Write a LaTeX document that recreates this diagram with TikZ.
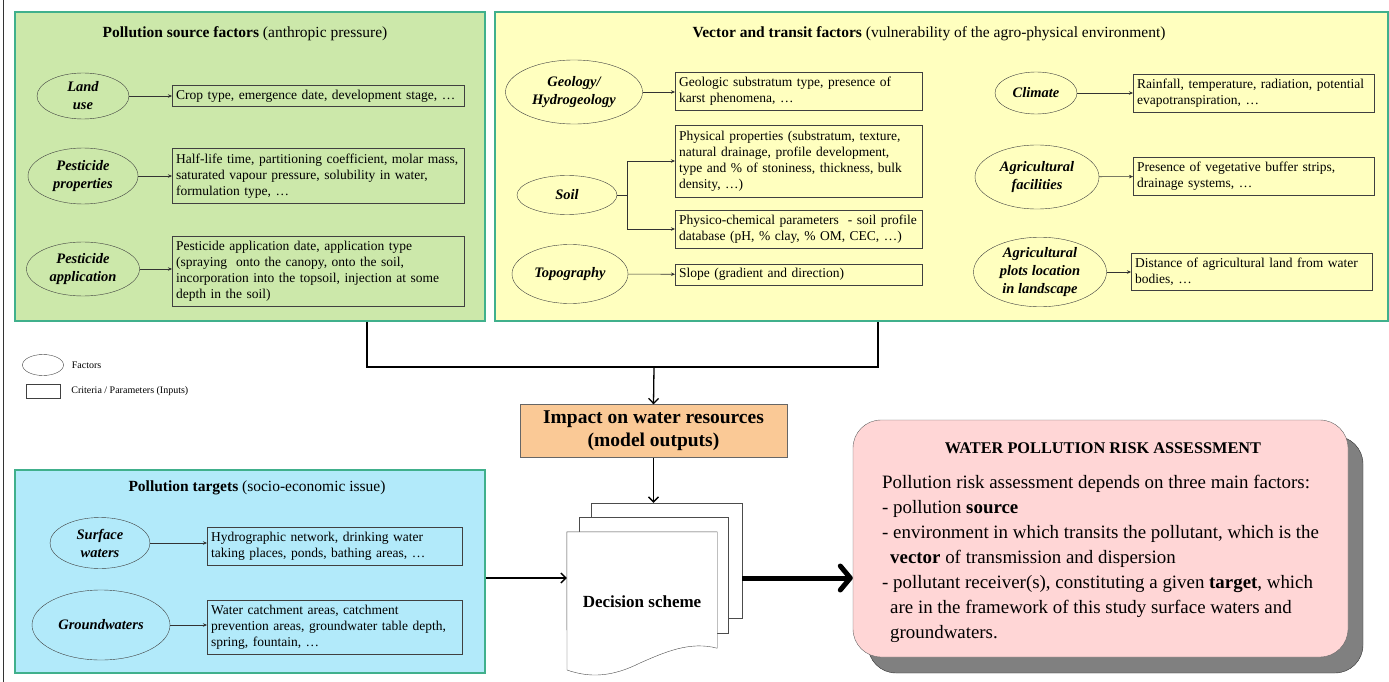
\documentclass[tikz,border=0pt]{standalone}
\usepackage{fontspec}
\setmainfont{Liberation Serif}
\usepackage{xcolor}
\usetikzlibrary{shapes.geometric, arrows.meta, positioning, shadows}

\definecolor{srcgreen}{RGB}{204,232,170}
\definecolor{vecyellow}{RGB}{255,255,191}
\definecolor{tgtblue}{RGB}{178,234,250}
\definecolor{impactorange}{RGB}{250,201,150}
\definecolor{riskpink}{RGB}{255,214,214}
\definecolor{panelborder}{RGB}{64,176,140}

\begin{document}
\begin{tikzpicture}[
    x=1pt, y=-1pt,
    panel/.style={rectangle, draw=panelborder, line width=1.3pt},
    paneltitle/.style={font=\fontsize{15.5}{18}\selectfont},
    factor/.style={ellipse, draw=black!75, inner sep=0pt, align=center, font=\fontsize{14.5}{18}\selectfont\bfseries\itshape},
    crit/.style={rectangle, draw=black!75, anchor=west, align=left, inner xsep=4pt, inner ysep=2pt, font=\fontsize{13.5}{16}\selectfont},
    legendtext/.style={inner sep=0pt, font=\fontsize{10}{12}\selectfont},
    page/.style={rectangle, draw=black!70, fill=white},
    arrow/.style={-{Stealth[length=4pt,width=3.5pt]}, draw=black!80, line width=0.6pt},
    link/.style={draw=black, line width=1.2pt},
    midarrow/.style={-{Straight Barb[length=5pt,width=10pt]}, line width=1.3pt},
    bigarrow/.style={-{Straight Barb[length=10pt,width=24pt,round]}, line width=5pt}
]
    \useasboundingbox (0,0) rectangle (1389,682);
    \draw[black!80, line width=0.8pt] (3,0) -- (3,682);

    % pollution source
    \node[panel, fill=srcgreen, minimum width=470pt, minimum height=309pt] (srcpanel) at (250,166.5) {};
    \node[paneltitle] (srctitle) at (245,34) {\textbf{Pollution source factors} (anthropic pressure)};
    \node[factor, minimum width=92pt, minimum height=46pt] (landuse) at (83,96) {Land\\use};
    \node[factor, minimum width=110pt, minimum height=56pt] (pestprop) at (83,176) {Pesticide\\properties};
    \node[factor, minimum width=113pt, minimum height=54pt] (pestapp) at (83,269) {Pesticide\\application};
    \node[crit, text width=284pt, minimum height=21pt] (cropbox) at (172,96) {Crop type, emergence date, development stage, …};
    \node[crit, text width=284pt, minimum height=55pt] (halfbox) at (172,176) {Half-life time, partitioning coefficient, molar mass,\\saturated vapour pressure, solubility in water,\\formulation type, …};
    \node[crit, text width=284pt, minimum height=70pt] (appbox) at (172,271) {Pesticide application date, application type\\(spraying~ onto the canopy, onto the soil,\\incorporation into the topsoil, injection at some\\depth in the soil)};

    % vector and transit
    \node[panel, fill=vecyellow, minimum width=893pt, minimum height=309pt] (vecpanel) at (941.5,166.5) {};
    \node[paneltitle] (vectitle) at (929,34) {\textbf{Vector and transit factors} (vulnerability of the agro-physical environment)};
    \node[factor, minimum width=137pt, minimum height=64pt] (geology) at (574,92) {Geology/\\Hydrogeology};
    \node[factor, minimum width=100pt, minimum height=39pt] (soil) at (567,195) {Soil};
    \node[factor, minimum width=116pt, minimum height=59pt] (topo) at (570,274) {Topography};
    \node[crit, text width=239pt, minimum height=38pt] (geobox) at (675,91) {Geologic substratum type, presence of\\karst phenomena, …};
    \node[crit, text width=239pt, minimum height=72pt] (physbox) at (675,161) {Physical properties (substratum, texture,\\natural drainage, profile development,\\type and \% of stoniness, thickness, bulk\\density, …)};
    \node[crit, text width=239pt, minimum height=38pt] (chembox) at (675,229) {Physico-chemical parameters~ - soil profile\\database (pH, \% clay, \% OM, CEC, …)};
    \node[crit, text width=239pt, minimum height=21pt] (slopebox) at (675,274.5) {Slope (gradient and direction)};
    \node[factor, minimum width=82pt, minimum height=42pt] (climate) at (1036,93) {Climate};
    \node[factor, minimum width=124pt, minimum height=64pt] (facil) at (1037,177) {Agricultural\\facilities};
    \node[factor, minimum width=133pt, minimum height=68pt] (plots) at (1040,272) {Agricultural\\plots location\\in landscape};
    \node[crit, text width=233pt, minimum height=38pt] (rainbox) at (1133,93) {Rainfall, temperature, radiation, potential\\evapotranspiration, …};
    \node[crit, text width=233pt, minimum height=38pt] (bufferbox) at (1133,176) {Presence of vegetative buffer strips,\\drainage systems, …};
    \node[crit, text width=233pt, minimum height=37pt] (distbox) at (1131,272) {Distance of agricultural land from water\\bodies, …};

    % legend
    \node[ellipse, draw=black!75, minimum width=41pt, minimum height=21pt, inner sep=0pt] (legfactor) at (43,365) {};
    \node[legendtext, right=8pt of legfactor] (legfactortext) {Factors};
    \node[rectangle, draw=black!75, minimum width=34pt, minimum height=14pt, inner sep=0pt] (legcrit) at (43,391) {};
    \node[legendtext, right=11pt of legcrit] (legcrittext) {Criteria / Parameters (Inputs)};

    % pollution targets
    \node[panel, fill=tgtblue, minimum width=470pt, minimum height=203pt] (tgtpanel) at (250,571.5) {};
    \node[paneltitle] (tgttitle) at (257,488) {\textbf{Pollution targets} (socio-economic issue)};
    \node[factor, minimum width=100pt, minimum height=51pt] (surface) at (100,543) {Surface\\waters};
    \node[factor, minimum width=138pt, minimum height=70pt] (ground) at (101,625) {Groundwaters};
    \node[crit, text width=247pt, minimum height=38pt] (hydrobox) at (207,546) {Hydrographic network, drinking water\\taking places, ponds, bathing areas, …};
    \node[crit, text width=247pt, minimum height=54pt] (catchbox) at (207,627) {Water catchment areas, catchment\\prevention areas, groundwater table depth,\\spring, fountain, …};

    % outputs and decision
    \node[rectangle, draw=black!60, fill=impactorange, minimum width=267pt, minimum height=53pt, align=center, font=\fontsize{19.5}{23}\selectfont\bfseries] (impact) at (653.5,431) {Impact on water resources\\(model outputs)};
    \coordinate (join) at (654,367);
    \node[page, minimum width=151pt, minimum height=115pt] (back) at (666.5,560.5) {};
    \node[page, minimum width=149pt, minimum height=116pt] (mid) at (653.5,575) {};
    \node[minimum width=150pt, minimum height=116pt, inner sep=0pt] (front) at (642,590) {};
    \filldraw[fill=white, draw=black!70] (front.north west) -- (front.north east) -- (front.south east)
        .. controls (690,641) and (665,652) .. (640,663) .. controls (612,677) and (590,678) .. (567,670) -- cycle;
    \node[font=\fontsize{17}{20}\selectfont\bfseries] (scheme) at (642,602) {Decision scheme};

    % risk assessment
    \node[rectangle, rounded corners=28pt, draw=black!60, fill=riskpink, minimum width=495pt, minimum height=237pt,
        drop shadow={shadow xshift=15pt, shadow yshift=-16pt, fill=black!50, draw=black!80, opacity=1}] (risk) at (1100.5,538.5) {};
    \node[font=\fontsize{16.3}{19}\selectfont\bfseries] (risktitle) at (1103,448) {WATER POLLUTION RISK ASSESSMENT};
    \node[anchor=north west, inner sep=0pt, align=left, font=\fontsize{18.9}{25}\selectfont] (riskbody) at (882,475) {Pollution risk assessment depends on three main factors:\\- pollution \textbf{source}\\- environment in which transits the pollutant, which is the\\\hspace*{8pt}\textbf{vector} of transmission and dispersion\\- pollutant receiver(s), constituting a given \textbf{target}, which\\\hspace*{8pt}are in the framework of this study surface waters and\\\hspace*{8pt}groundwaters.};

    \coordinate (feed) at (700,578);

    \draw[arrow] (landuse) -- (cropbox);
    \draw[arrow] (pestprop) -- (halfbox);
    \draw[arrow] (pestapp) -- (pestapp -| appbox.west);
    \draw[arrow] (geology) -- (geology -| geobox.west);
    \draw[arrow] (soil.east) -- ++(10,0) |- (physbox.west);
    \draw[arrow] (soil.east) -- ++(10,0) |- (chembox.west);
    \draw[arrow] (topo) -- (slopebox);
    \draw[arrow] (climate) -- (rainbox);
    \draw[arrow] (facil) -- (bufferbox);
    \draw[arrow] (plots) -- (distbox);
    \draw[arrow] (surface) -- (surface -| hydrobox.west);
    \draw[arrow] (ground) -- (ground -| catchbox.west);
    \draw[link] ([xshift=117pt]srcpanel.south) |- (join) -| ([xshift=-63.5pt]vecpanel.south);
    \draw[midarrow] (join) -- (impact.north);
    \draw[midarrow] (impact.south) -- (impact.south |- back.north);
    \draw[midarrow] (tgtpanel.east |- feed) -- (front.west |- feed);
    \draw[bigarrow] (back.east |- feed) -- (risk.west |- feed);
\end{tikzpicture}
\end{document}
